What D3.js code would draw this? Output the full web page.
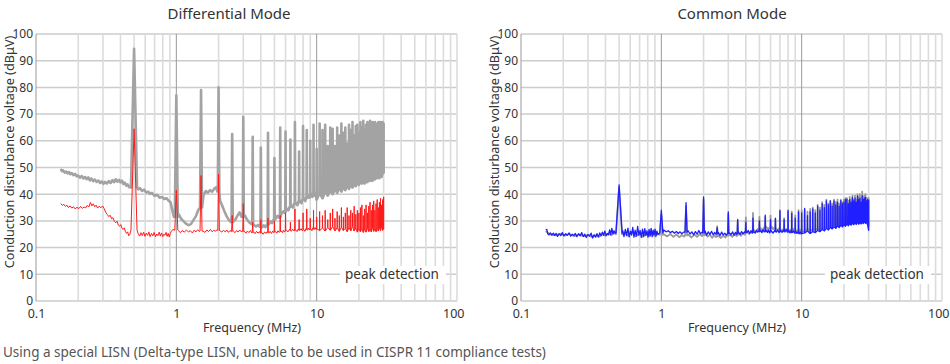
<!DOCTYPE html>
<html>
<head>
<meta charset="utf-8">
<script src="https://cdn.jsdelivr.net/npm/d3@7"></script>
<style>
body { margin: 0; background: #fff; }
svg text { font-family: "Noto Sans", sans-serif; fill: #333; }
</style>
</head>
<body>
<svg id="chart" width="950" height="364"></svg>
<script>
// ---- data (MHz / dBuV) ----
const xTicks = [0.1, 1, 10, 100]
const yTicks = [0, 10, 20, 30, 40, 50, 60, 70, 80, 90, 100]

// switching harmonics, every 0.5 MHz up to 30 MHz
const harmonics = [0.5, 1, 1.5, 2, 2.5, 3, 3.5, 4, 4.5, 5, 5.5, 6, 6.5, 7, 7.5, 8, 8.5, 9, 9.5, 10,
  10.5, 11, 11.5, 12, 12.5, 13, 13.5, 14, 14.5, 15, 15.5, 16, 16.5, 17, 17.5, 18, 18.5, 19, 19.5, 20,
  20.5, 21, 21.5, 22, 22.5, 23, 23.5, 24, 24.5, 25, 25.5, 26, 26.5, 27, 27.5, 28, 28.5, 29, 29.5, 30]

// Differential mode - gray trace
const dmGrayPeaks = [94.5, 77, 79, 80, 62.5, 69, 61.5, 57.5, 63, 53.5, 65, 63.5, 60.5, 67, 56, 65.5, 64, 60, 66, 57,
  66.5, 64, 66, 58, 65, 64.5, 58, 65, 62, 66.5, 63, 65, 59, 66, 64, 67, 62, 65.5, 66, 63,
  67, 65, 67.5, 64, 66, 67, 63, 67.5, 66, 67, 64, 67, 66.5, 62.5, 67, 66, 67, 66.5, 67, 66.5]
const dmGrayBases = [42.5, 31.5, 35, 41, 29.5, 31.5, 28.8, 27.8, 28.6, 30.4, 31.5, 33.5, 35.2, 36.4, 37, 38, 38.7, 39.5, 39.8, 38,
  40.5, 38.5, 41, 39.5, 41.5, 40, 42, 40.5, 42.5, 41, 43, 41.5, 43.5, 42, 44, 42.5, 44.5, 43, 45, 43.5,
  45, 44, 45.5, 44, 46, 44.5, 46, 45, 46.5, 45, 47, 45.5, 47, 46, 47.5, 46, 48, 46.5, 48, 48]
const dmGrayFloor = [
  [0.150, 49.5], [0.153, 48.6], [0.156, 48.9], [0.160, 48.1], [0.164, 48.5], [0.168, 47.8], [0.172, 48.3], [0.176, 47.5],
  [0.180, 47.9], [0.185, 47.1], [0.190, 47.6], [0.195, 46.7], [0.200, 47.0], [0.206, 46.2], [0.212, 46.8], [0.218, 45.9],
  [0.224, 46.4], [0.230, 45.6], [0.236, 46.3], [0.242, 45.2], [0.248, 45.9], [0.255, 44.9], [0.262, 45.5], [0.270, 44.6],
  [0.278, 45.1], [0.286, 44.2], [0.294, 44.8], [0.302, 43.9], [0.310, 44.6], [0.320, 44.0], [0.330, 44.9], [0.340, 44.2],
  [0.350, 45.3], [0.360, 44.5], [0.370, 45.6], [0.380, 44.7], [0.390, 45.4], [0.400, 44.4], [0.410, 45.1], [0.420, 43.8],
  [0.430, 44.3], [0.440, 43.2], [0.450, 43.7], [0.460, 42.6], [0.470, 42.9],
  [0.535, 41.8], [0.550, 42.3], [0.570, 41.2], [0.590, 41.7], [0.610, 40.6], [0.630, 41.0], [0.650, 40.1], [0.670, 40.5],
  [0.700, 39.4], [0.730, 39.8], [0.760, 38.7], [0.790, 39.0], [0.820, 38.2], [0.850, 38.5], [0.880, 37.6], [0.910, 37.0],
  [0.940, 33.5], [0.960, 31.5],
  [1.04, 32.5], [1.08, 30.8], [1.12, 30.0], [1.17, 29.0], [1.22, 28.4], [1.27, 28.8], [1.32, 30.2], [1.38, 31.8], [1.43, 34.0],
  [1.56, 39.5], [1.62, 41.2], [1.68, 40.6], [1.74, 41.5], [1.80, 40.9], [1.86, 42.0], [1.92, 42.6], [1.96, 41.0],
  [2.05, 37.5], [2.12, 35.8], [2.20, 33.6], [2.28, 31.8], [2.36, 30.5], [2.44, 29.6],
  [2.56, 29.8], [2.64, 30.6], [2.72, 31.9], [2.82, 33.2], [2.92, 31.5],
  [3.08, 32.0], [3.18, 30.6], [3.30, 29.5], [3.42, 28.8],
  [3.58, 28.4], [3.70, 27.9], [3.82, 28.5], [3.92, 27.8],
  [4.08, 27.6], [4.20, 28.3], [4.32, 27.7], [4.42, 28.6],
  [4.58, 28.9], [4.70, 29.8], [4.82, 29.2], [4.92, 30.4],
  [5.10, 30.8], [5.25, 31.9], [5.40, 31.2],
  [5.62, 32.8], [5.80, 33.6], [5.92, 33.0],
  [6.10, 34.6], [6.30, 34.0], [6.40, 35.2],
  [6.60, 35.8], [6.80, 35.0], [6.90, 36.4],
  [7.10, 36.8], [7.30, 35.9], [7.40, 37.2],
  [7.60, 37.5], [7.80, 36.6], [7.90, 38.0],
  [8.10, 38.3], [8.30, 37.4], [8.40, 38.8],
  [8.60, 38.6], [8.80, 39.5], [8.90, 38.7],
  [9.10, 39.8], [9.30, 39.0], [9.40, 40.2],
  [9.60, 39.5], [9.80, 40.6], [9.90, 39.8]]

// Differential mode - red trace
const dmRedPeaks = [64.5, 41.5, 47, 47.5, 32, 36.5, 29.5, 30.5, 31, 30, 32, 33, 29.5, 34.5, 30.5, 33, 34.5, 31, 34, 31.5,
  33.5, 32, 34, 30.5, 33, 34.5, 31, 33.5, 32, 35, 31.5, 33, 35, 32, 34, 33, 35.5, 32.5, 34, 33,
  35, 36, 32, 34.5, 36, 33, 35.5, 37, 34, 36, 37.5, 34, 36.5, 38, 35, 37, 38.5, 36, 38, 39]
const dmRedBases = [26.5, 26.5, 26.2, 26.4, 26, 26, 25.6, 25.4, 25.6, 25.8, 26, 26.2, 26.4, 26.5, 26.5, 26.7, 26.8, 26.9, 27, 27,
  26.4, 27.3, 26.2, 27.5, 26.5, 27.8, 26.3, 27.4, 26.1, 27.6, 26.4, 27.2, 26, 27.5, 26.3, 27.9, 26.2, 27.3, 25.8, 27,
  25.9, 27.2, 25.7, 26.9, 25.8, 27.4, 26, 27.1, 25.9, 27.6, 26.1, 27.3, 26, 27.8, 26.2, 27.5, 26.4, 28, 26.5, 27]
const dmRedFloor = [
  [0.150, 36.5], [0.154, 35.8], [0.158, 36.2], [0.162, 35.4], [0.166, 35.9], [0.170, 35.0], [0.175, 35.6], [0.180, 34.8],
  [0.185, 35.3], [0.190, 34.5], [0.196, 35.1], [0.202, 34.6], [0.208, 35.4], [0.214, 34.7], [0.220, 35.2], [0.226, 34.9],
  [0.232, 35.8], [0.238, 35.2], [0.244, 36.9], [0.250, 35.6], [0.256, 36.4], [0.262, 35.3], [0.268, 35.9], [0.275, 34.8],
  [0.282, 35.5], [0.290, 34.9], [0.298, 35.6], [0.306, 34.6], [0.314, 33.2], [0.322, 32.4], [0.330, 31.6], [0.338, 32.1],
  [0.346, 30.8], [0.354, 31.2], [0.362, 29.8], [0.370, 29.3], [0.378, 29.9], [0.386, 28.4], [0.394, 28.0], [0.402, 28.6],
  [0.410, 27.2], [0.418, 26.8], [0.426, 27.4], [0.434, 25.9], [0.442, 25.3], [0.450, 25.9], [0.458, 24.4], [0.465, 24.8],
  [0.535, 25.2], [0.548, 24.3], [0.560, 25.6], [0.572, 24.5], [0.585, 25.8], [0.598, 24.2], [0.611, 25.4], [0.624, 24.6],
  [0.637, 25.9], [0.650, 24.1], [0.665, 25.3], [0.680, 24.4], [0.695, 25.7], [0.710, 24.0], [0.725, 25.1], [0.740, 24.5],
  [0.755, 25.8], [0.770, 24.3], [0.785, 25.5], [0.800, 24.1], [0.815, 25.0], [0.830, 24.6], [0.845, 25.7], [0.860, 24.2],
  [0.875, 25.3], [0.890, 24.0], [0.905, 25.2], [0.920, 26.0], [0.945, 26.8],
  [1.04, 26.2], [1.07, 25.6], [1.10, 26.4], [1.14, 25.8], [1.18, 26.6], [1.22, 25.9], [1.26, 26.3], [1.30, 25.5],
  [1.34, 26.5], [1.38, 25.9], [1.42, 26.7], [1.46, 26.0],
  [1.55, 26.2], [1.60, 25.7], [1.65, 26.6], [1.70, 26.0], [1.75, 26.8], [1.80, 25.9], [1.85, 26.5], [1.90, 26.1], [1.95, 26.7],
  [2.05, 26.3], [2.11, 25.8], [2.17, 26.5], [2.23, 25.9], [2.29, 26.6], [2.35, 25.7], [2.41, 26.4], [2.46, 26.0],
  [2.55, 26.2], [2.62, 25.6], [2.69, 26.4], [2.76, 25.8], [2.83, 26.6], [2.90, 25.9], [2.96, 26.3],
  [3.05, 26.1], [3.13, 25.4], [3.21, 26.2], [3.29, 25.6], [3.37, 26.4], [3.45, 25.5],
  [3.55, 25.9], [3.64, 25.2], [3.73, 26.1], [3.82, 25.4], [3.91, 26.0],
  [4.06, 25.6], [4.16, 25.0], [4.26, 25.9], [4.36, 25.3], [4.45, 26.0],
  [4.56, 25.4], [4.66, 26.1], [4.76, 25.3], [4.86, 26.2], [4.95, 25.6],
  [5.10, 26.0], [5.20, 25.4], [5.30, 26.3], [5.40, 25.7],
  [5.60, 26.2], [5.70, 25.6], [5.80, 26.5], [5.90, 25.8],
  [6.10, 26.4], [6.25, 25.9], [6.40, 26.8],
  [6.60, 26.1], [6.75, 26.9], [6.90, 26.2],
  [7.10, 26.6], [7.25, 26.0], [7.40, 27.0],
  [7.60, 26.4], [7.75, 27.1], [7.90, 26.3],
  [8.10, 26.8], [8.25, 26.1], [8.40, 27.2],
  [8.60, 26.5], [8.75, 27.3], [8.90, 26.6],
  [9.10, 27.0], [9.25, 26.3], [9.40, 27.4],
  [9.60, 26.7], [9.75, 27.5], [9.90, 26.8]]

// Common mode - gray trace
const cmGrayPeaks = [42.5, 32.5, 35.5, 38, 28, 32.5, 30, 31.3, 33, 31.5, 31.5, 32, 30.5, 33.5, 31, 33.5, 33.5, 32, 34, 34,
  34, 33.5, 34.5, 35, 34, 36, 35, 37, 36, 38, 36.5, 37.5, 36.5, 38, 37, 38, 36.5, 38, 37, 38,
  38.5, 38.5, 37.5, 39, 38, 39.5, 38, 39.5, 38, 40, 39, 40, 38.5, 41, 39, 39.5, 40, 38.5, 38.5, 38.5]
const cmGrayBases = [25, 24.8, 24.5, 24.6, 24.2, 24.5, 24.8, 25.4, 25.8, 26.5, 27, 27.2, 27, 26.8, 26.5, 26.4, 26.5, 26.3, 26.2, 26,
  26.3, 27, 26.2, 26.8, 26.5, 27.2, 26.8, 27.6, 27.2, 28, 27.5, 28.4, 27.8, 28.6, 28, 28.9, 28.3, 29.2, 28.6, 29.4,
  28.8, 29.6, 29, 29.8, 29.2, 30, 29.4, 30.2, 29.6, 30.4, 29.7, 30.3, 29.8, 30.5, 30, 30.6, 30, 30.4, 29.5, 28]
const cmGrayFloor = [
  [0.150, 26.2], [0.160, 25.0], [0.175, 24.6], [0.190, 25.2], [0.205, 24.5], [0.220, 25.1], [0.240, 24.3], [0.260, 24.9],
  [0.280, 24.2], [0.300, 24.8], [0.320, 24.0], [0.340, 24.6], [0.360, 24.1], [0.380, 25.0], [0.400, 24.4], [0.420, 25.3],
  [0.440, 24.6], [0.460, 25.5],
  [0.54, 25.6], [0.58, 24.4], [0.62, 25.9], [0.66, 24.2], [0.70, 25.7], [0.74, 24.0], [0.78, 25.4], [0.82, 24.3],
  [0.86, 25.8], [0.90, 24.1], [0.94, 25.3],
  [1.04, 25.0], [1.10, 24.2], [1.16, 25.1], [1.22, 24.0], [1.28, 24.9], [1.34, 23.9], [1.40, 24.7], [1.45, 24.1],
  [1.56, 24.8], [1.64, 23.8], [1.72, 24.9], [1.80, 24.0], [1.88, 25.1], [1.95, 24.3],
  [2.06, 25.2], [2.14, 24.1], [2.22, 24.8], [2.30, 23.7], [2.38, 24.6], [2.45, 23.9],
  [2.56, 24.4], [2.66, 23.6], [2.76, 24.5], [2.86, 23.8], [2.95, 24.7],
  [3.08, 24.9], [3.20, 24.0], [3.32, 25.1], [3.44, 24.3],
  [3.58, 25.2], [3.70, 24.4], [3.82, 25.6], [3.93, 24.8],
  [4.08, 26.0], [4.22, 25.1], [4.36, 26.3], [4.45, 25.4],
  [4.58, 26.6], [4.72, 25.8], [4.86, 27.0], [4.95, 26.2],
  [5.10, 27.3], [5.25, 26.4], [5.40, 27.6],
  [5.60, 27.8], [5.75, 26.8], [5.90, 27.5],
  [6.10, 27.9], [6.25, 26.9], [6.40, 27.4],
  [6.60, 27.0], [6.75, 26.4], [6.90, 27.2],
  [7.10, 26.8], [7.25, 26.2], [7.40, 27.0],
  [7.60, 26.6], [7.75, 26.9], [7.90, 26.1],
  [8.10, 26.7], [8.25, 26.0], [8.40, 26.8],
  [8.60, 26.3], [8.75, 27.0], [8.90, 26.2],
  [9.10, 26.6], [9.25, 25.9], [9.40, 26.5],
  [9.60, 26.0], [9.75, 26.7], [9.90, 25.8]]

// Common mode - blue trace
const cmBluePeaks = [43.5, 34, 36.8, 39, 27.5, 33.4, 30.6, 29.5, 31, 30, 32.2, 30.5, 31, 34, 30.5, 34, 32.8, 31, 33.4, 33,
  34.7, 32, 33.4, 34.5, 33, 35.5, 34, 36.5, 35, 37.5, 36, 37.5, 35.5, 37.5, 36, 37, 35.5, 37.6, 36.5, 37,
  38, 38.1, 36.5, 38, 37, 38.8, 37.5, 38.5, 37, 39.4, 38, 38.5, 37, 39.5, 38, 38.5, 38.8, 37.5, 38, 37.8]
const cmBlueBases = [25.5, 25.5, 25.8, 25.5, 25.2, 25.3, 25.4, 25.6, 25.8, 26, 26, 25.9, 26, 26, 26, 25.8, 25.6, 25.5, 25.4, 25.2,
  25.5, 26.2, 25.3, 26, 25.6, 26.4, 26, 26.8, 26.3, 27.2, 26.6, 27.6, 27, 27.8, 27.2, 28.1, 27.5, 28.4, 27.8, 28.6,
  28, 28.8, 28.2, 29, 28.4, 29.2, 28.6, 29.3, 28.7, 29.5, 28.8, 29.4, 28.9, 29.6, 29, 29.8, 29.1, 29.5, 28.5, 26.5]
const cmBlueFloor = [
  [0.150, 26.8], [0.153, 26.7], [0.155, 25.2], [0.158, 24.8], [0.162, 25.5], [0.166, 24.7], [0.170, 25.4], [0.174, 24.6],
  [0.178, 25.3], [0.182, 24.2], [0.187, 25.1], [0.192, 24.5], [0.197, 25.6], [0.202, 24.4], [0.208, 25.2], [0.214, 24.6],
  [0.220, 25.5], [0.226, 24.3], [0.232, 25.0], [0.238, 24.5], [0.244, 25.3], [0.250, 24.1], [0.257, 25.2], [0.264, 24.4],
  [0.271, 25.6], [0.278, 24.2], [0.285, 25.0], [0.292, 23.8], [0.300, 24.9], [0.308, 24.3], [0.316, 25.4], [0.324, 23.6],
  [0.332, 24.8], [0.340, 23.9], [0.348, 25.2], [0.356, 24.0], [0.364, 25.5], [0.372, 24.4], [0.380, 25.8], [0.388, 24.6],
  [0.396, 26.2], [0.404, 24.5], [0.412, 25.3], [0.420, 24.8], [0.428, 26.6], [0.436, 24.9], [0.444, 27.2], [0.452, 25.1],
  [0.460, 26.3], [0.468, 25.4],
  [0.530, 26.4], [0.542, 24.1], [0.554, 26.8], [0.566, 24.5], [0.578, 27.3], [0.590, 24.0], [0.602, 26.2], [0.614, 24.7],
  [0.626, 27.6], [0.638, 23.9], [0.650, 26.5], [0.664, 24.3], [0.678, 27.9], [0.692, 24.6], [0.706, 26.4], [0.720, 23.8],
  [0.734, 26.9], [0.748, 24.2], [0.762, 27.1], [0.776, 24.5], [0.790, 26.3], [0.804, 23.9], [0.818, 26.8], [0.832, 24.4],
  [0.846, 27.2], [0.860, 24.1], [0.874, 26.5], [0.888, 24.7], [0.902, 26.9], [0.916, 24.3], [0.930, 26.2], [0.945, 24.9],
  [1.04, 26.6], [1.08, 25.9], [1.12, 26.3], [1.16, 25.6], [1.20, 26.1], [1.24, 25.4], [1.28, 26.0], [1.32, 25.3],
  [1.36, 25.9], [1.40, 25.2], [1.44, 25.8],
  [1.55, 26.3], [1.60, 25.1], [1.65, 25.9], [1.70, 24.8], [1.75, 26.0], [1.80, 25.0], [1.85, 26.4], [1.90, 25.2], [1.95, 25.8],
  [2.05, 26.2], [2.10, 24.6], [2.16, 25.9], [2.22, 24.9], [2.28, 26.1], [2.34, 24.8], [2.40, 25.7], [2.45, 25.0],
  [2.55, 25.6], [2.62, 24.5], [2.69, 25.8], [2.76, 24.7], [2.83, 25.4], [2.90, 24.6], [2.96, 25.3],
  [3.06, 25.5], [3.14, 24.8], [3.22, 25.9], [3.30, 24.6], [3.38, 25.7], [3.45, 24.9],
  [3.55, 25.8], [3.64, 24.9], [3.73, 26.0], [3.82, 25.1], [3.92, 25.9],
  [4.06, 25.6], [4.16, 26.4], [4.26, 25.3], [4.36, 26.2], [4.45, 25.5],
  [4.56, 26.0], [4.66, 25.4], [4.76, 26.5], [4.86, 25.8], [4.95, 26.3],
  [5.10, 26.4], [5.20, 25.6], [5.30, 26.7], [5.40, 25.9],
  [5.60, 26.5], [5.70, 25.7], [5.80, 26.6], [5.90, 25.5],
  [6.10, 26.2], [6.25, 25.4], [6.40, 26.3],
  [6.60, 25.8], [6.75, 26.6], [6.90, 25.6],
  [7.10, 26.4], [7.25, 25.7], [7.40, 26.5],
  [7.60, 25.9], [7.75, 26.8], [7.90, 25.8],
  [8.10, 26.3], [8.25, 25.5], [8.40, 26.4],
  [8.60, 25.7], [8.75, 26.2], [8.90, 25.4],
  [9.10, 26.0], [9.25, 25.3], [9.40, 25.9],
  [9.60, 25.2], [9.75, 25.8], [9.90, 25.1]]

// ---- drawing ----
const svg = d3.select("#chart")
const plotTop = 34, plotBottom = 301
const spikeHalf = 0.025   // half width of a harmonic spike (MHz)

const y = d3.scaleLinear().domain([0, 100]).range([plotBottom, plotTop])

function tracePoints(floor, peaks, bases) {
  const pts = floor.filter(d => harmonics.every(h => Math.abs(d[0] - h) > spikeHalf * 1.2))
  harmonics.forEach((h, i) => {
    pts.push([h - spikeHalf, bases[i]], [h, peaks[i]], [h + spikeHalf, bases[i]])
  })
  return pts.sort((a, b) => a[0] - b[0])
}

function drawPanel(p) {
  const x = d3.scaleLog().domain([0.1, 100]).range([p.left, p.right])
  const g = svg.append("g")

  // grid
  const minor = []
  for (const dec of [0.1, 1, 10]) for (let k = 2; k <= 9; k++) minor.push(dec * k)
  g.selectAll(".hgrid").data(yTicks).join("line")
    .attr("x1", p.left).attr("x2", p.right)
    .attr("y1", d => y(d)).attr("y2", d => y(d))
    .attr("stroke", "#cccccc").attr("stroke-width", 1.5)
  g.selectAll(".vminor").data(minor.concat([100])).join("line")
    .attr("x1", d => x(d)).attr("x2", d => x(d))
    .attr("y1", plotTop).attr("y2", plotBottom)
    .attr("stroke", "#dcdcdc").attr("stroke-width", 1.6)
  g.selectAll(".vmajor").data([0.1, 1, 10]).join("line")
    .attr("x1", d => x(d)).attr("x2", d => x(d))
    .attr("y1", plotTop).attr("y2", plotBottom)
    .attr("stroke", "#999").attr("stroke-width", 1)

  // traces
  const line = d3.line().x(d => x(d[0])).y(d => y(d[1]))
  p.traces.forEach(t => {
    g.append("path")
      .datum(tracePoints(t.floor, t.peaks, t.bases))
      .attr("fill", "none")
      .attr("stroke", t.color)
      .attr("stroke-width", t.width)
      .attr("stroke-linejoin", "round")
      .attr("d", line)
  })

  // axes (labels only)
  const xa = g.append("g").attr("transform", `translate(0,${plotBottom})`)
    .call(d3.axisBottom(x).tickValues(xTicks).tickFormat(d3.format("~g")).tickSize(0).tickPadding(8))
  xa.select(".domain").remove()
  xa.selectAll("text").attr("font-size", 12.5).attr("font-family", null).attr("fill", "#333")
  xa.selectAll(".tick").filter(d => d === 100).select("text").attr("dx", "-0.3em")

  const ya = g.append("g").attr("transform", `translate(${p.left},0)`)
    .call(d3.axisLeft(y).tickValues(yTicks).tickSize(0).tickPadding(3))
  ya.select(".domain").remove()
  ya.selectAll("text").attr("font-size", 12).attr("font-family", null).attr("fill", "#333")

  // titles
  g.append("text").attr("x", p.titleX).attr("y", 19).attr("text-anchor", "middle")
    .attr("font-size", 15).text(p.title)
  g.append("text").attr("x", p.xlabelX).attr("y", 332).attr("text-anchor", "middle")
    .attr("font-size", 12.5).text("Frequency (MHz)")
  g.append("text").attr("transform", `translate(${p.ylabelX},152) rotate(-90)`)
    .attr("text-anchor", "middle").attr("font-size", 12.7)
    .text("Conduction disturbance voltage (dBμV)")

  // annotation
  g.append("rect").attr("x", p.noteX - 5).attr("y", 266).attr("width", 106).attr("height", 18).attr("fill", "#fff")
  g.append("text").attr("x", p.noteX).attr("y", 279).attr("font-size", 13.5).text("peak detection")
}

drawPanel({
  left: 36, right: 457, title: "Differential Mode", titleX: 229, xlabelX: 252, ylabelX: 13.5, noteX: 345,
  traces: [
    { floor: dmGrayFloor, peaks: dmGrayPeaks, bases: dmGrayBases, color: "#a3a3a3", width: 2.6 },
    { floor: dmRedFloor, peaks: dmRedPeaks, bases: dmRedBases, color: "#ff1a1a", width: 1 }
  ]
})
drawPanel({
  left: 521, right: 942, title: "Common Mode", titleX: 732, xlabelX: 737, ylabelX: 498.5, noteX: 830,
  traces: [
    { floor: cmGrayFloor, peaks: cmGrayPeaks, bases: cmGrayBases, color: "#9a9a9a", width: 1.8 },
    { floor: cmBlueFloor, peaks: cmBluePeaks, bases: cmBlueBases, color: "#1f1fff", width: 1.3 }
  ]
})

svg.append("text").attr("x", 3).attr("y", 357).attr("font-size", 13.5)
  .style("fill", "#555")
  .text("Using a special LISN (Delta-type LISN, unable to be used in CISPR 11 compliance tests)")
</script>
</body>
</html>
